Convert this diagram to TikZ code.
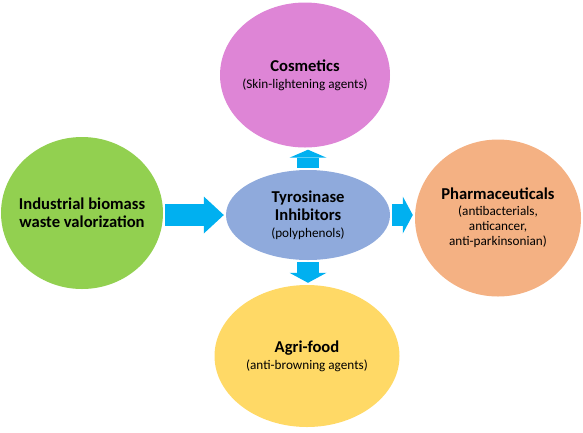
\documentclass[tikz,border=0pt]{standalone}
\usepackage{fontspec}
\setmainfont{Carlito}
\usepackage{tikz}
\usetikzlibrary{shapes.geometric}
\usetikzlibrary{arrows.meta}
\definecolor{biogreen}{RGB}{146,208,80}
\definecolor{cospink}{RGB}{222,133,214}
\definecolor{tyrblue}{RGB}{143,170,220}
\definecolor{pharmorange}{RGB}{244,177,131}
\definecolor{agriyellow}{RGB}{255,217,102}
\definecolor{arrowblue}{RGB}{0,176,240}
\newcommand{\subtext}{\fontsize{13.2}{14}\selectfont\mdseries}

\begin{document}
\begin{tikzpicture}[x=1pt,y=-1pt,
							bubble/.style={ellipse, inner sep=-20pt, align=center, font=\fontsize{16.6}{18}\selectfont\bfseries},
							fatarrow/.style={draw=arrowblue, line width=22pt, -{Triangle[length=#1 0,width=37pt 0,line width=0pt 0]}, shorten <=2pt, shorten >=2pt},
							fatarrow/.default=10pt,
							]
							\useasboundingbox (0,0) rectangle (583,432);
							%Nodes
							\node[bubble, fill=biogreen, minimum width=162pt, minimum height=152pt]	(bio)	at	(82,213)	{Industrial biomass\\waste valorization};
							\node[bubble, fill=cospink, minimum width=170pt, minimum height=145pt]	(cos)	at	(305,75)	{Cosmetics\\[-1pt]\subtext (Skin-lightening agents)};
							\node[bubble, fill=tyrblue, minimum width=164pt, minimum height=90pt]	(tyr)	at	(308,215)	{Tyrosinase\\Inhibitors\\[-1pt]\subtext (polyphenols)};
							\node[bubble, fill=pharmorange, minimum width=166pt, minimum height=157pt]	(pharma)	at	(498,218)	{Pharmaceuticals\\[-2pt]\subtext (antibacterials,\\[-3pt]\subtext anticancer,\\[-3pt]\subtext anti-parkinsonian)};
							\node[bubble, fill=agriyellow, minimum width=185pt, minimum height=142pt]	(agri)	at	(307,356)	{Agri-food\\[-1pt]\subtext (anti-browning agents)};
							
							%Arrows
							\draw[fatarrow=20pt] (bio.east |- tyr.center) -- (tyr.west);
							\draw[fatarrow=8pt] (tyr.north) -- (tyr.north |- cos.south);
							\draw[fatarrow] (tyr.south) -- (tyr.south |- agri.north);
							\draw[fatarrow] (tyr.east) -- (tyr.east -| pharma.west);
						\end{tikzpicture}
\end{document}
